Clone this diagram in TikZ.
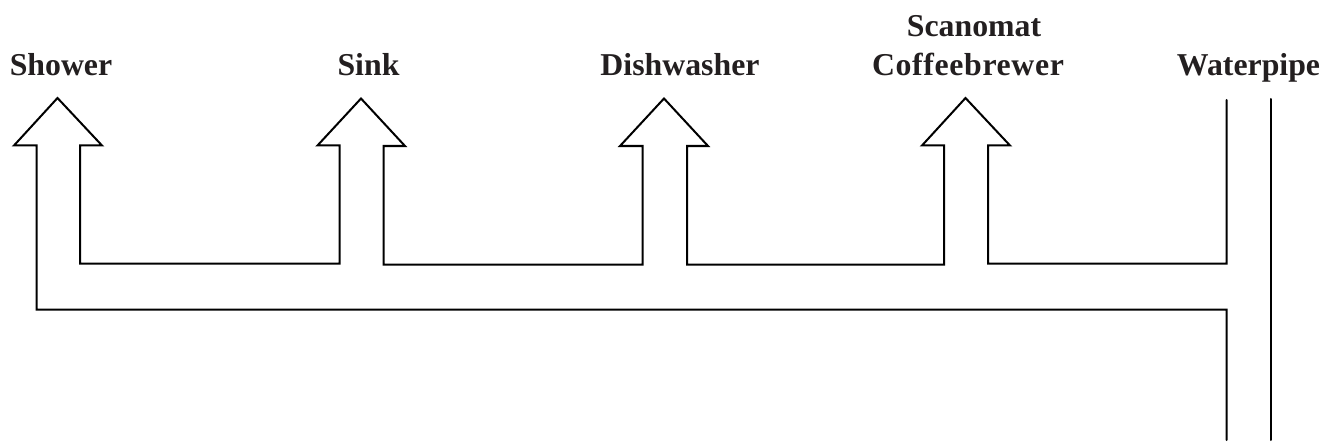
\documentclass[tikz,border=0pt]{standalone}
\usepackage{fontspec}
\setmainfont[Ligatures=NoCommon]{Liberation Serif}
\definecolor{labelink}{HTML}{231F20}
\tikzset{
  pipe/.style={draw=black,line width=1pt,line join=miter,line cap=round,miter limit=4},
  lbl/.style={inner sep=0pt,outer sep=0pt,anchor=base,text=labelink,font=\fontsize{15.9pt}{19.5pt}\selectfont\bfseries,align=center}
}
\begin{document}
\begin{tikzpicture}[x=0.5pt,y=-0.5pt]
\useasboundingbox (0,0) rectangle (1322,444);
% labels
\node[lbl] (shower) at (61,76) {Shower};
\node[lbl] (sink) at (368.5,76) {Sink};
\node[lbl] (dish) at (680,76) {Dishwasher};
\node[lbl] (scan) at (974,37) {Scanomat};
\node[lbl] (coffee) at (968,76) {\addfontfeature{LetterSpace=2}Coffeebrewer};
\node[lbl] (water) at (1248.5,76) {Waterpipe};
% key points
\coordinate (t1) at (57.5,98);
\coordinate (t2) at (361,98.5);
\coordinate (t3) at (664,98.5);
\coordinate (t4) at (965.5,98);
% outer pipe to the shower arrow
\draw[pipe] (1226.5,440) -- (1226.5,309.5) -- (36.5,309.5) -- (36.5,145.5) -- (14,145.5) -- (t1) -- (102,145.5) -- (80,145.5) -- (80,263.5) -- (339.5,263.5) -- (339.5,145.5) -- (317.5,145.5) -- (t2) -- (405,146) -- (383.5,146) -- (383.5,264.5) -- (642.5,264.5) -- (642.5,146) -- (620,146) -- (t3) -- (708,146) -- (687,146) -- (687,264.5) -- (944,264.5) -- (944,145.5) -- (922,145.5) -- (t4) -- (1010,145.5) -- (988,145.5) -- (988,263.5) -- (1226.5,263.5) -- (1226.5,100);
\draw[pipe] (1270.5,99) -- (1270.5,440);
\end{tikzpicture}
\end{document}
